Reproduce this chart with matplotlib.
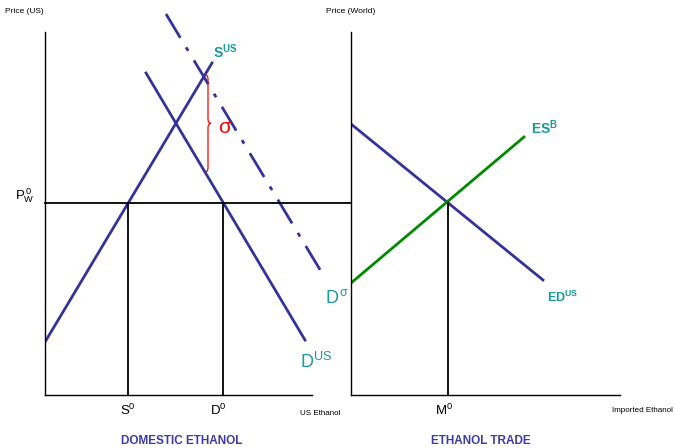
import numpy as np
import matplotlib.pyplot as plt
from matplotlib.path import Path
from matplotlib.patches import PathPatch

plt.rcParams['font.family'] = ['Liberation Sans', 'DejaVu Sans']
plt.rcParams['mathtext.fontset'] = 'custom'
plt.rcParams['mathtext.rm'] = 'Liberation Sans'
plt.rcParams['mathtext.it'] = 'Liberation Sans'
plt.rcParams['mathtext.bf'] = 'Liberation Sans:bold'

NAVY = '#333399'
TEAL = '#1a9a9a'
GREEN = '#008a00'

# domestic market (quantity, price) end points
s_us_x = [0, 167]
s_us_y = [53, 332]
d_us_x = [101, 260]
d_us_y = [322, 55]
d_sig_x = [121, 280]
d_sig_y = [381, 117]
pw0 = 192

# trade market
ed_us_x = [0, 192]
ed_us_y = [271, 115]
es_b_x = [0, 173]
es_b_y = [112, 258]


def line_at(xs, ys, x):
    return ys[0] + (ys[1] - ys[0]) * (x - xs[0]) / (xs[1] - xs[0])


def x_at(xs, ys, y):
    return xs[0] + (xs[1] - xs[0]) * (y - ys[0]) / (ys[1] - ys[0])


def brace(ax, x, y0, y1, w, **kw):
    ym = (y0 + y1) / 2
    verts = [(x, y0), (x + w, y0), (x + w, y0 + w * 1.5),
             (x + w, ym - w * 1.5), (x + w, ym), (x + 2 * w, ym),
             (x + w, ym), (x + w, ym + w * 1.5),
             (x + w, y1 - w * 1.5), (x + w, y1), (x, y1)]
    codes = [Path.MOVETO, Path.CURVE3, Path.CURVE3, Path.LINETO,
             Path.CURVE3, Path.CURVE3, Path.CURVE3, Path.CURVE3,
             Path.LINETO, Path.CURVE3, Path.CURVE3]
    ax.add_patch(PathPatch(Path(verts, codes), fill=False, **kw))


fig = plt.figure(figsize=(6.75, 4.48), dpi=100)
W, H = 675, 448
ax1 = fig.add_axes([45 / W, 53 / H, 267 / W, 363 / H])
ax2 = fig.add_axes([351 / W, 53 / H, 269 / W, 363 / H])

for ax, w in ((ax1, 267), (ax2, 269)):
    ax.set_xlim(0, w)
    ax.set_ylim(0, 363)
    ax.set_xticks([])
    ax.set_yticks([])
    ax.spines[['top', 'right']].set_visible(False)
    ax.spines[['left', 'bottom']].set_linewidth(1.0)

# left panel
s0 = x_at(s_us_x, s_us_y, pw0)
d0 = x_at(d_us_x, d_us_y, pw0)
m0 = x_at(ed_us_x, ed_us_y, pw0)

ax1.plot(s_us_x, s_us_y, color=NAVY, lw=2)
ax1.plot(d_us_x, d_us_y, color=NAVY, lw=2)
ax1.plot(d_sig_x, d_sig_y, color=NAVY, lw=2, ls=(0, (10, 4, 1.5, 4)),
         clip_on=False)
ax1.plot([0, 306 + m0], [pw0, pw0], color='black', lw=1.3, clip_on=False)
ax1.plot([s0, s0], [0, pw0], color='black', lw=1.3)
ax1.plot([d0, d0], [0, pw0], color='black', lw=1.3)

bx = 160
brace(ax1, bx, line_at(d_us_x, d_us_y, bx), line_at(s_us_x, s_us_y, bx),
      3, color='red', lw=0.9)
ax1.text(173, 268, r'$\sigma$', color='red', fontsize=15, ha='left', va='center')

ax1.text(168, 343, r'$\mathbf{S^{US}}$', color=TEAL, fontsize=10, va='center')
ax1.text(280, 97, r'D$^{\,\sigma}$', color=TEAL, fontsize=13, va='center')
ax1.text(255, 33, r'D$^{\mathrm{US}}$', color=TEAL, fontsize=13, va='center')
ax1.text(s0, -15, r'S$^{0}$', fontsize=9.5, ha='center', va='center')
ax1.text(d0 - 5, -15, r'D$^{0}$', fontsize=9.5, ha='center', va='center')
ax1.text(255, -18, 'US Ethanol', fontsize=5.8, ha='left', va='center')
ax1.text(-20, 199, r'P$_{\mathrm{W}}^{\,0}$', fontsize=9.5, ha='center', va='center')
ax1.text(-40, 384, 'Price (US)', fontsize=6, ha='left', va='center')
ax1.text(137, -46, 'DOMESTIC ETHANOL', fontsize=8.5, fontweight='bold',
         color='#3b3ba8', ha='center', va='center')

# right panel
ax2.plot(ed_us_x, ed_us_y, color=NAVY, lw=2)
ax2.plot(es_b_x, es_b_y, color=GREEN, lw=2)
ax2.plot([m0, m0], [0, pw0], color='black', lw=1.3)

ax2.text(180, 267, r'$\mathbf{ES^{B}}$', color=TEAL, fontsize=10, va='center')
ax2.text(196, 98, r'$\mathbf{ED^{US}}$', color=TEAL, fontsize=9, va='center')
ax2.text(m0 - 4, -15, r'M$^{0}$', fontsize=9.5, ha='center', va='center')
ax2.text(322, -15, 'Imported Ethanol', fontsize=5.8, ha='right', va='center')
ax2.text(-25, 384, 'Price (World)', fontsize=6, ha='left', va='center')
ax2.text(130, -46, 'ETHANOL TRADE', fontsize=8.5, fontweight='bold',
         color='#3b3ba8', ha='center', va='center')

fig.savefig('out.png', dpi=100)
